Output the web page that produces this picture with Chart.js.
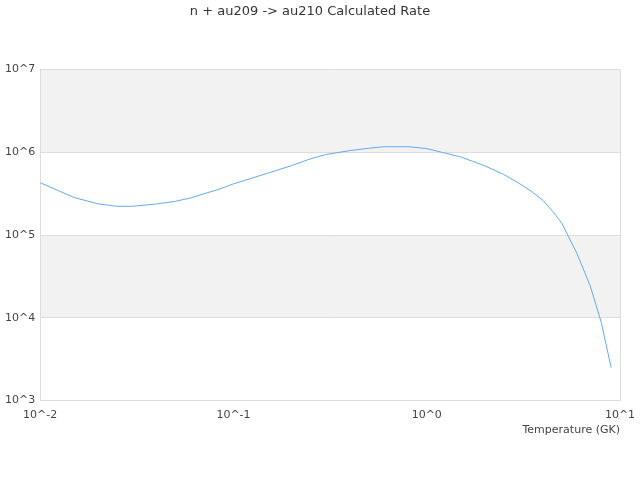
<!DOCTYPE html>
<html>
<head>
<meta charset="utf-8">
<script src="https://cdn.jsdelivr.net/npm/chart.js@4/dist/chart.umd.min.js"></script>
<style>
  html, body { margin: 0; padding: 0; background: #fff; }
  #wrap { width: 640px; height: 480px; }
</style>
</head>
<body>
<div id="wrap"><canvas id="rateChart"></canvas></div>
<script>
// Temperature grid (GK) and calculated rate
const temperatures = [0.01, 0.015, 0.02, 0.025, 0.03, 0.04, 0.05, 0.06, 0.07, 0.08, 0.09,
    0.1, 0.15, 0.2, 0.25, 0.3, 0.4, 0.5, 0.6, 0.7, 0.8, 0.9,
    1, 1.5, 2, 2.5, 3, 3.5, 4, 4.5, 5, 6, 7, 8, 9];
const rates = [4.3e5, 2.84e5, 2.38e5, 2.23e5, 2.23e5, 2.38e5, 2.56e5, 2.81e5, 3.15e5, 3.45e5, 3.79e5,
    4.16e5, 5.59e5, 6.92e5, 8.34e5, 9.4e5, 1.05e6, 1.12e6, 1.17e6, 1.17e6, 1.17e6, 1.14e6,
    1.11e6, 8.8e5, 6.86e5, 5.42e5, 4.23e5, 3.35e5, 2.61e5, 1.92e5, 1.39e5, 5.93e4, 2.46e4, 8.8e3, 2.5e3];

// Tick positions (decades) and their labels
const xTicks = [0.01, 0.1, 1, 10];
const xTickLabels = ['10^-2', '10^-1', '10^0', '10^1'];
const yTicks = [1e3, 1e4, 1e5, 1e6, 1e7];
const yTickLabels = ['10^3', '10^4', '10^5', '10^6', '10^7'];

// Shaded decade bands (from, to)
const bands = [[1e4, 1e5], [1e6, 1e7]];

// Draw the grey bands and the right-hand frame line
const bandPlugin = {
    id: 'bands',
    beforeDraw(chart) {
        const { ctx, chartArea, scales } = chart;
        ctx.save();
        ctx.fillStyle = '#f2f2f2';
        bands.forEach(b => {
            const top = scales.y.getPixelForValue(b[1]);
            const bottom = scales.y.getPixelForValue(b[0]);
            ctx.fillRect(chartArea.left, top, chartArea.right - chartArea.left, bottom - top);
        });
        ctx.restore();
    },
    afterDraw(chart) {
        const { ctx, chartArea } = chart;
        ctx.save();
        ctx.strokeStyle = '#dddddd';
        ctx.lineWidth = 1;
        ctx.beginPath();
        ctx.moveTo(chartArea.right + 0.5, chartArea.top);
        ctx.lineTo(chartArea.right + 0.5, chartArea.bottom);
        ctx.stroke();
        ctx.restore();
    }
};

Chart.defaults.font.family = 'DejaVu Sans';
Chart.defaults.color = '#444';

const ctx = document.getElementById('rateChart').getContext('2d');
const rateChart = new Chart(ctx, {
    type: 'line',
    data: {
        datasets: [{
            label: 'Rate',
            data: temperatures.map((t, i) => ({ x: t, y: rates[i] })),
            borderColor: 'rgb(100,170,240)',
            borderWidth: 1,
            pointRadius: 0,
            tension: 0,
            fill: false
        }]
    },
    options: {
        responsive: true,
        maintainAspectRatio: false,
        animation: false,
        layout: { padding: { left: 0, right: 20, top: 0, bottom: 39 } },
        plugins: {
            legend: { display: false },
            tooltip: { enabled: false },
            title: {
                display: true,
                text: 'n + au209 -> au210 Calculated Rate',
                color: '#333',
                font: { size: 13, weight: 'normal' },
                padding: { top: 4, bottom: 50 }
            }
        },
        scales: {
            x: {
                type: 'logarithmic',
                min: 0.01,
                max: 10,
                grid: { display: false },
                border: { display: true, color: '#dddddd' },
                afterBuildTicks: axis => { axis.ticks = xTicks.map(v => ({ value: v })); },
                ticks: {
                    autoSkip: false,
                    maxRotation: 0,
                    font: { size: 11 },
                    padding: 0,
                    callback: (v) => xTickLabels[xTicks.indexOf(v)]
                },
                title: {
                    display: true,
                    text: 'Temperature (GK)',
                    align: 'end',
                    font: { size: 11 },
                    padding: { top: 2 }
                }
            },
            y: {
                type: 'logarithmic',
                min: 1e3,
                max: 1e7,
                grid: { color: '#dddddd', drawTicks: false },
                border: { display: true, color: '#dddddd' },
                afterBuildTicks: axis => { axis.ticks = yTicks.map(v => ({ value: v })); },
                ticks: {
                    autoSkip: false,
                    font: { size: 11 },
                    padding: 5,
                    callback: (v) => yTickLabels[yTicks.indexOf(v)]
                }
            }
        }
    },
    plugins: [bandPlugin]
});
</script>
</body>
</html>
